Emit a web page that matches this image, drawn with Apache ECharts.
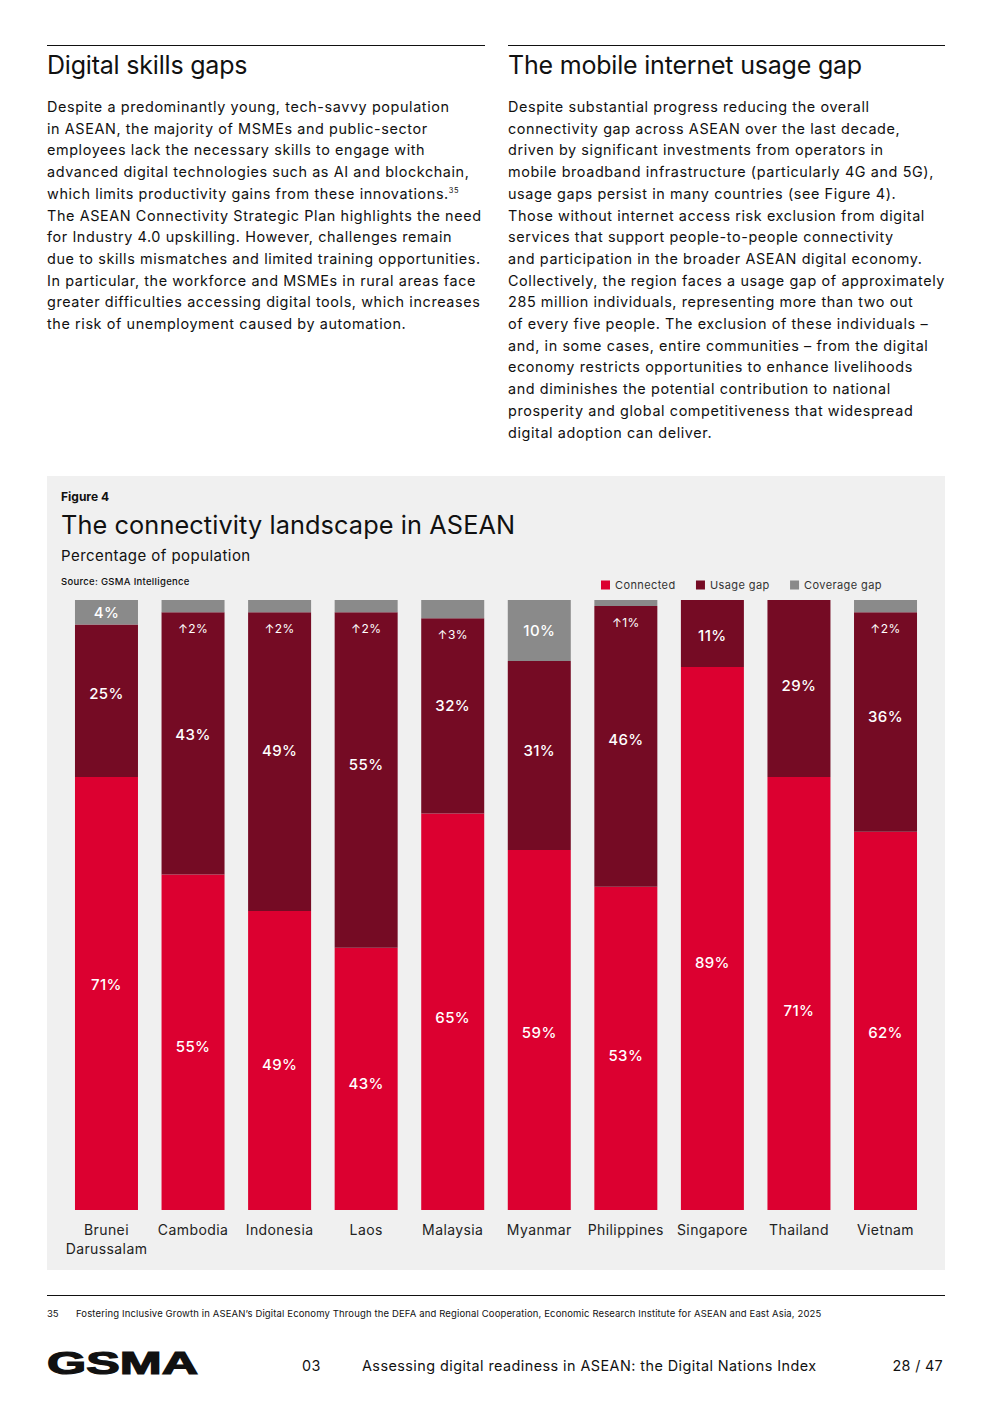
<!DOCTYPE html>
<html>
<head>
<meta charset="utf-8">
<script src="https://cdn.jsdelivr.net/npm/echarts@6/dist/echarts.min.js"></script>
<style>
  html, body { margin: 0; padding: 0; background: #fff; }
  body { width: 992px; height: 1403px; position: relative; font-family: Inter, "Noto Sans", sans-serif; color: #111; overflow: hidden; }
  .abs { position: absolute; white-space: nowrap; }
  .rule { position: absolute; height: 0; border-top: 1px solid #111; }
  .h2 { font-size: 25px; line-height: 30px; font-weight: 400; letter-spacing: -0.2px; }
  .body { font-size: 14.4px; line-height: 21.7px; letter-spacing: 0.6px; }
  sup { font-size: 7.5px; line-height: 0; vertical-align: 0; position: relative; top: -6px; letter-spacing: 0.5px; }
  #figbox { position: absolute; left: 47px; top: 476px; width: 898px; height: 794px; background: #f0f0f0; }
  #chart { position: absolute; left: 0; top: 0; width: 898px; height: 794px; letter-spacing: 0.4px; }
</style>
</head>
<body>
<div class="rule" style="left:47px; top:45px; width:438px;"></div>
<div class="rule" style="left:508px; top:45px; width:437px;"></div>

<div class="abs h2" style="left:47px; top:50px;">Digital skills gaps</div>
<div class="abs h2" style="left:508px; top:50px;">The mobile internet usage gap</div>

<div class="abs body" style="left:47px; top:96px;">Despite a predominantly young, tech-savvy population<br>in ASEAN, the majority of MSMEs and public-sector<br>employees lack the necessary skills to engage with<br>advanced digital technologies such as AI and blockchain,<br>which limits productivity gains from these innovations.<sup>35</sup><br>The ASEAN Connectivity Strategic Plan highlights the need<br>for Industry 4.0 upskilling. However, challenges remain<br>due to skills mismatches and limited training opportunities.<br>In particular, the workforce and MSMEs in rural areas face<br>greater difficulties accessing digital tools, which increases<br>the risk of unemployment caused by automation.</div>

<div class="abs body" style="left:508px; top:96px;">Despite substantial progress reducing the overall<br>connectivity gap across ASEAN over the last decade,<br>driven by significant investments from operators in<br>mobile broadband infrastructure (particularly 4G and 5G),<br>usage gaps persist in many countries (see Figure 4).<br>Those without internet access risk exclusion from digital<br>services that support people-to-people connectivity<br>and participation in the broader ASEAN digital economy.<br>Collectively, the region faces a usage gap of approximately<br>285 million individuals, representing more than two out<br>of every five people. The exclusion of these individuals –<br>and, in some cases, entire communities – from the digital<br>economy restricts opportunities to enhance livelihoods<br>and diminishes the potential contribution to national<br>prosperity and global competitiveness that widespread<br>digital adoption can deliver.</div>

<div id="figbox">
  <div id="chart"></div>
  <div class="abs" style="left:14px; top:14px; font-size:12px; line-height:14px; font-weight:700;">Figure 4</div>
  <div class="abs" style="left:14px; top:34px; font-size:25.3px; line-height:30px; letter-spacing:0.1px;">The connectivity landscape in ASEAN</div>
  <div class="abs" style="left:14px; top:71px; font-size:15px; line-height:18px; letter-spacing:0.45px;">Percentage of population</div>
  <div class="abs" style="left:14px; top:100px; font-size:9.5px; line-height:12px; font-weight:500; letter-spacing:0.3px;">Source: GSMA Intelligence</div>
</div>

<div class="rule" style="left:47px; top:1295px; width:898px;"></div>
<div class="abs" style="left:47px; top:1308px; font-size:9.5px; line-height:12px;">35</div>
<div class="abs" style="left:76px; top:1308px; font-size:9.5px; line-height:12px; letter-spacing:0.14px;">Fostering Inclusive Growth in ASEAN’s Digital Economy Through the DEFA and Regional Cooperation, Economic Research Institute for ASEAN and East Asia, 2025</div>

<svg class="abs" style="left:45px; top:1346px;" width="160" height="34">
  <text x="2" y="28" font-family="Liberation Sans, Arial, sans-serif" font-weight="900" font-size="31" textLength="151" lengthAdjust="spacingAndGlyphs" fill="#111" stroke="#111" stroke-width="1.2">GSMA</text>
</svg>
<div class="abs body" style="left:302px; top:1355px; letter-spacing:0.5px;">03</div>
<div class="abs body" style="left:362px; top:1355px; letter-spacing:0.44px;">Assessing digital readiness in ASEAN: the Digital Nations Index</div>
<div class="abs body" style="right:49px; top:1355px; letter-spacing:0.3px;">28 / 47</div>

<script>
const categories = ['Brunei\nDarussalam', 'Cambodia', 'Indonesia', 'Laos', 'Malaysia', 'Myanmar', 'Philippines', 'Singapore', 'Thailand', 'Vietnam'];
const connected   = [71, 55, 49, 43, 65, 59, 53, 89, 71, 62];
const usageGap    = [25, 43, 49, 55, 32, 31, 46, 11, 29, 36];
const coverageGap = [4, 2, 2, 2, 3, 10, 1, 0, 0, 2];

// label vertical nudges (style only)
const connectedLabelDy = [-9, 4, 4, 5, 6, 2, 7, 24, 17, 12];
const usageLabelDy     = [-7, -9, -11, -15, -10, -5, -7, 2, -3, -6];

const RED = '#DC0030', MAROON = '#750B24', GREY = '#8A8A8A';
const bigLabel = { color: '#fff', fontSize: 15, fontWeight: 500, fontFamily: 'Inter' };

const chart = echarts.init(document.getElementById('chart'), null, { renderer: 'svg' });
chart.setOption({
  animation: false,
  backgroundColor: 'transparent',
  textStyle: { fontFamily: 'Inter' },
  legend: {
    left: 554, top: 103.5, padding: 0,
    itemWidth: 9, itemHeight: 9, itemGap: 24, icon: 'rect',
    textStyle: { fontSize: 11, color: '#333', fontFamily: 'Inter' },
    data: ['Connected', 'Usage gap', 'Coverage gap']
  },
  grid: { left: 16.2, right: 16.2, top: 124, bottom: 60, containLabel: false },
  xAxis: {
    type: 'category', data: categories,
    axisLine: { show: false }, axisTick: { show: false },
    axisLabel: { fontSize: 14, color: '#222', lineHeight: 19, margin: 10, interval: 0, fontFamily: 'Inter' }
  },
  yAxis: { type: 'value', min: 0, max: 100, show: false, splitLine: { show: false } },
  series: [
    {
      name: 'Connected', type: 'bar', stack: 'total', barWidth: 63,
      itemStyle: { color: RED },
      data: connected.map((v, i) => ({ value: v, label: { offset: [0, connectedLabelDy[i]] } })),
      label: Object.assign({ show: true, position: 'inside', formatter: '{c}%' }, bigLabel)
    },
    {
      name: 'Usage gap', type: 'bar', stack: 'total', barWidth: 63,
      itemStyle: { color: MAROON },
      data: usageGap.map((v, i) => ({ value: v, label: { offset: [0, usageLabelDy[i]] } })),
      label: Object.assign({ show: true, position: 'inside', formatter: '{c}%' }, bigLabel)
    },
    {
      name: 'Coverage gap', type: 'bar', stack: 'total', barWidth: 63,
      itemStyle: { color: GREY },
      data: coverageGap.map(v => {
        if (v === 0) return { value: v, label: { show: false } };
        if (v < 4) return { value: v, label: { show: true, position: 'bottom', distance: 10, formatter: '↑' + v + '%', fontSize: 12, fontWeight: 400, color: '#fff' } };
        return { value: v, label: Object.assign({ show: true, position: 'inside', formatter: v + '%' }, bigLabel) };
      }),
      label: { show: true }
    }
  ]
});
</script>
</body>
</html>
